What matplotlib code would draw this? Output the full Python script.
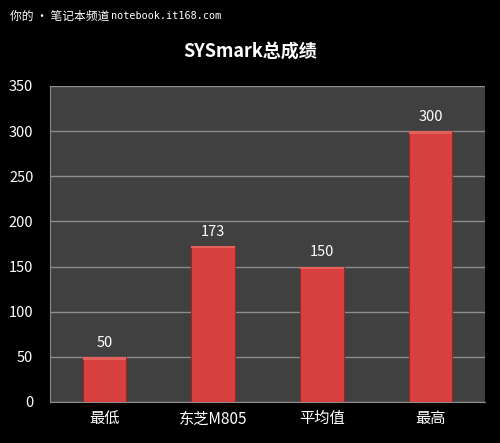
import matplotlib
matplotlib.use("Agg")
import matplotlib.pyplot as plt
import numpy as np

plt.rcParams['font.family'] = ['Noto Sans CJK SC', 'DejaVu Sans']

categories = ['最低', '东芝M805', '平均值', '最高']
values = [50, 173, 150, 300]
yticks = [0, 50, 100, 150, 200, 250, 300, 350]

fig = plt.figure(figsize=(5.0, 4.43), dpi=100, facecolor='black')
ax = fig.add_axes([0.1, 0.0926, 0.87, 0.7134])
ax.set_facecolor('#404040')

x = np.arange(len(categories))
bars = ax.bar(x, values, width=0.4, color='#d8403f', edgecolor='#9a2626', linewidth=0.8, zorder=3)
# highlight bevel on top of bars
for xi, v in zip(x, values):
    ax.bar(xi, 3, bottom=v - 3, width=0.4, color='#e4605b', linewidth=0, zorder=4)
    ax.text(xi, v + 8, str(v), ha='center', va='bottom', color='white', fontsize=10.5, zorder=5)

ax.set_xlim(-0.5, len(categories) - 0.5)
ax.set_ylim(0, 350)
ax.set_yticks(yticks)
ax.set_xticks(x)
ax.set_xticklabels(categories, color='white', fontsize=11)
ax.tick_params(axis='y', colors='white', labelsize=10.5, length=0, pad=12)
ax.tick_params(axis='x', colors='white', length=0, pad=6)
ax.grid(axis='y', color='#8c8c8c', linewidth=1, zorder=1)
for s in ['top', 'right']:
    ax.spines[s].set_visible(False)
ax.spines['left'].set_color('#8c8c8c')
ax.spines['bottom'].set_color('#8c8c8c')

fig.text(0.5, 0.885, 'SYSmark总成绩', ha='center', va='center', color='white', fontsize=13, fontweight='bold')
fig.text(0.02, 0.964, '你的 • 笔记本频道', ha='left', va='center', color='white', fontsize=8.5,
         family=['Noto Sans CJK SC', 'DejaVu Sans'])
fig.text(0.222, 0.964, 'notebook.it168.com', ha='left', va='center', color='white', fontsize=7.3,
         family='DejaVu Sans Mono')

fig.savefig('out.png', dpi=100, facecolor='black')
